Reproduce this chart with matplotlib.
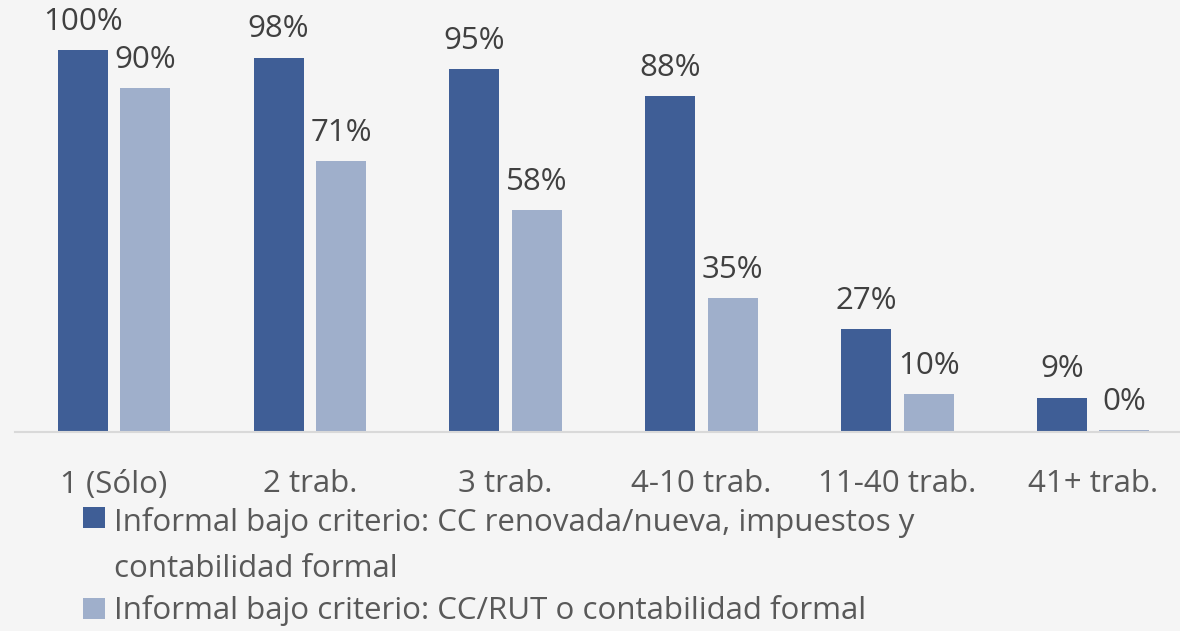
import numpy as np
import matplotlib.pyplot as plt

categories = ['1 (Sólo)', '2 trab.', '3 trab.', '4-10 trab.', '11-40 trab.', '41+ trab.']
series_names = ['Informal bajo criterio: CC renovada/nueva, impuestos y\ncontabilidad formal',
                'Informal bajo criterio: CC/RUT o contabilidad formal']
strict = [100, 98, 95, 88, 27, 9]
loose = [90, 71, 58, 35, 10, 0.4]

dark = '#3f5e96'
light = '#9fafcb'
bg = '#f5f5f5'

plt.rcParams['font.family'] = ['Open Sans', 'DejaVu Sans']

fig = plt.figure(figsize=(11.8, 6.31), dpi=100, facecolor=bg)
ax = fig.add_axes([15 / 1180, 199 / 631, 1165 / 1180, 432 / 631])
ax.set_facecolor(bg)

x = np.arange(len(categories))
w = 0.255
off = 0.16
b1 = ax.bar(x - off, strict, w, color=dark, label=series_names[0])
b2 = ax.bar(x + off, loose, w, color=light, label=series_names[1])

for bars, vals in [(b1, strict), (b2, loose)]:
    for r, v in zip(bars, vals):
        ax.annotate(f'{v:.0f}%', (r.get_x() + r.get_width() / 2, r.get_height()),
                    xytext=(0, 9.5), textcoords='offset points',
                    ha='center', va='bottom', fontsize=22.5, color='#404040')

ax.set_xlim(-0.506, 5.444)
ax.set_ylim(0, 113.1)
ax.set_yticks([])
ax.set_xticks(x)
ax.set_xticklabels(categories, fontsize=22.5, color='#595959')
ax.tick_params(axis='x', length=0, pad=27)
for s in ['top', 'left', 'right']:
    ax.spines[s].set_visible(False)
ax.spines['bottom'].set_color('#d9d9d9')
ax.spines['bottom'].set_linewidth(1.5)

leg = fig.legend(loc='upper left', bbox_to_anchor=(70 / 1180, 1 - 495 / 631),
                 frameon=False, fontsize=22.5, labelcolor='#595959',
                 handlelength=0.72, handleheight=0.65, handletextpad=0.3,
                 labelspacing=0.35, borderaxespad=0)
for t in leg.get_texts():
    t.set_linespacing(1.68)
# keep the first square beside the first line of its wrapped label
leg.legend_handles[0].set_y(leg.legend_handles[0].get_y() + 21)

fig.savefig('out.png', dpi=100, facecolor=bg)
